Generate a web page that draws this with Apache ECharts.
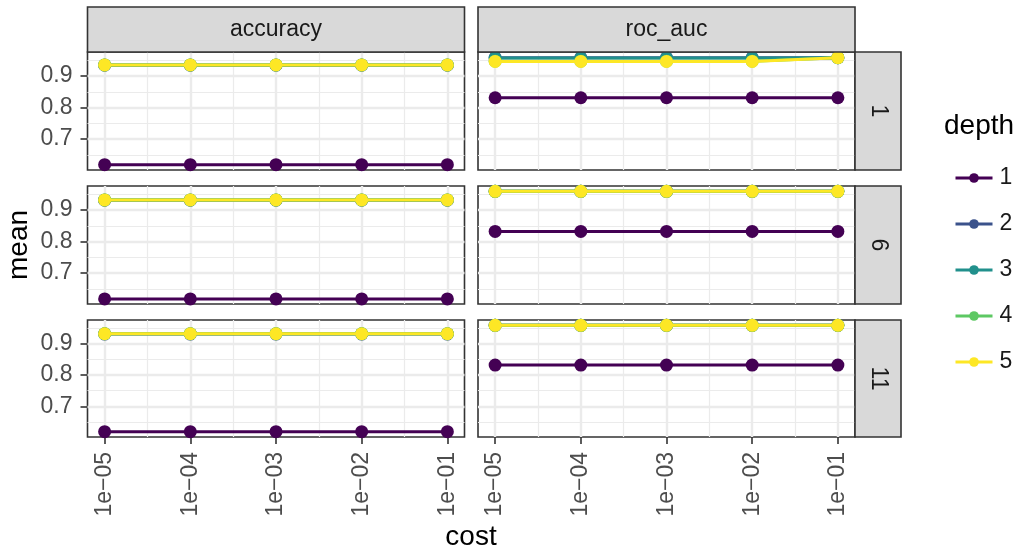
<!DOCTYPE html>
<html>
<head>
<meta charset="utf-8">
<script src="https://cdn.jsdelivr.net/npm/echarts@6/dist/echarts.min.js"></script>
<style>
  html, body { margin: 0; padding: 0; background: #ffffff; }
  #chart { width: 1022px; height: 549px; }
</style>
</head>
<body>
<div id="chart"></div>
<script>
// ---- data -------------------------------------------------------------
const costs = [1e-5, 1e-4, 1e-3, 1e-2, 1e-1];
const costLabels = ['1e\u221205', '1e\u221204', '1e\u221203', '1e\u221202', '1e\u221201'];
const costMinor = [Math.pow(10, -4.5), Math.pow(10, -3.5), Math.pow(10, -2.5), Math.pow(10, -1.5)];
const meanTicks = [0.7, 0.8, 0.9];
const meanLabels = ['0.7', '0.8', '0.9'];
const meanMinor = [0.65, 0.75, 0.85, 0.95];

const metrics = ['accuracy', 'roc_auc'];
const rowLevels = ['1', '6', '11'];
const depths = ['1', '2', '3', '4', '5'];
const depthColors = ['#440154', '#3B528B', '#21908C', '#5DC863', '#FDE725'];

// mean metric per depth (rows) across the five cost values (columns)
const accuracyRow1 = [
  [0.619, 0.619, 0.619, 0.619, 0.619],
  [0.934, 0.934, 0.934, 0.934, 0.934],
  [0.935, 0.935, 0.935, 0.935, 0.935],
  [0.935, 0.935, 0.935, 0.935, 0.935],
  [0.935, 0.935, 0.935, 0.935, 0.935]
];
const rocAucRow1 = [
  [0.831, 0.831, 0.831, 0.831, 0.831],
  [0.958, 0.958, 0.958, 0.958, 0.958],
  [0.957, 0.957, 0.957, 0.957, 0.958],
  [0.947, 0.947, 0.947, 0.947, 0.958],
  [0.946, 0.946, 0.946, 0.946, 0.958]
];
const accuracyRow6 = [
  [0.618, 0.618, 0.618, 0.618, 0.618],
  [0.931, 0.931, 0.931, 0.931, 0.931],
  [0.932, 0.932, 0.932, 0.932, 0.932],
  [0.932, 0.932, 0.932, 0.932, 0.932],
  [0.932, 0.932, 0.932, 0.932, 0.932]
];
const rocAucRow6 = [
  [0.832, 0.832, 0.832, 0.832, 0.832],
  [0.959, 0.959, 0.959, 0.959, 0.959],
  [0.959, 0.959, 0.959, 0.959, 0.959],
  [0.959, 0.959, 0.959, 0.959, 0.959],
  [0.959, 0.959, 0.959, 0.959, 0.959]
];
const accuracyRow11 = [
  [0.619, 0.619, 0.619, 0.619, 0.619],
  [0.931, 0.931, 0.931, 0.931, 0.931],
  [0.932, 0.932, 0.932, 0.932, 0.932],
  [0.932, 0.932, 0.932, 0.932, 0.932],
  [0.932, 0.932, 0.932, 0.932, 0.932]
];
const rocAucRow11 = [
  [0.832, 0.832, 0.832, 0.832, 0.832],
  [0.959, 0.959, 0.959, 0.959, 0.959],
  [0.959, 0.959, 0.959, 0.959, 0.959],
  [0.959, 0.959, 0.959, 0.959, 0.959],
  [0.959, 0.959, 0.959, 0.959, 0.959]
];
const panelValues = [
  [accuracyRow1, rocAucRow1],
  [accuracyRow6, rocAucRow6],
  [accuracyRow11, rocAucRow11]
];

// ---- layout -------------------------------------------------------------
const FONT = '"Liberation Sans", Arial, Helvetica, sans-serif';
const colLeft = [87.5, 478];
const colWidth = 377;
const rowTop = [52, 186, 320];
const rowHeight = [118, 118, 117];
const stripTop = 7;
const stripH = 45;
const stripRightX = 855;
const stripRightW = 46;
const yMin = 0.602, yMax = 0.976;
const xMin = Math.pow(10, -5.2), xMax = Math.pow(10, -0.8);

const grids = [], xAxes = [], yAxes = [], series = [], graphics = [];

function costLabel(v) {
  const e = v > 0 ? Math.round(Math.log10(v)) : Math.round(v);
  const i = costs.findIndex(c => Math.round(Math.log10(c)) === e);
  return i >= 0 ? costLabels[i] : '';
}

let p = 0;
for (let r = 0; r < rowLevels.length; r++) {
  for (let c = 0; c < metrics.length; c++) {
    const isBottom = r === rowLevels.length - 1;
    const isLeft = c === 0;
    grids.push({
      left: colLeft[c], top: rowTop[r], width: colWidth, height: rowHeight[r],
      show: true, borderColor: '#333333', borderWidth: 1.6, backgroundColor: 'transparent',
      containLabel: false
    });
    xAxes.push({
      type: 'log', logBase: 10, gridIndex: p, min: xMin, max: xMax,
      axisLine: { show: false },
      splitLine: { show: false }, minorSplitLine: { show: false },
      axisTick: { show: isBottom, customValues: costs, length: 7, inside: false,
                  lineStyle: { color: '#333333', width: 1.6 } },
      axisLabel: { show: isBottom, customValues: costs, rotate: 90, margin: 15,
                   fontFamily: FONT, fontSize: 23, color: '#4D4D4D', formatter: costLabel }
    });
    yAxes.push({
      type: 'value', gridIndex: p, min: yMin, max: yMax,
      axisLine: { show: false },
      splitLine: { show: false }, minorSplitLine: { show: false },
      axisTick: { show: isLeft, customValues: meanTicks, length: 7,
                  lineStyle: { color: '#333333', width: 1.6 } },
      axisLabel: { show: isLeft, customValues: meanTicks, margin: 15,
                   fontFamily: FONT, fontSize: 23, color: '#4D4D4D',
                   formatter: v => {
                     const i = meanTicks.findIndex(t => Math.abs(t - v) < 1e-6);
                     return i >= 0 ? meanLabels[i] : '';
                   } }
    });

    // panel grid lines (major and minor breaks)
    const gridLineData = [];
    costMinor.forEach(v => gridLineData.push({ xAxis: v, lineStyle: { color: '#EBEBEB', width: 1.2, type: 'solid' } }));
    meanMinor.forEach(v => gridLineData.push({ yAxis: v, lineStyle: { color: '#EBEBEB', width: 1.2, type: 'solid' } }));
    costs.forEach(v => gridLineData.push({ xAxis: v, lineStyle: { color: '#EBEBEB', width: 2.4, type: 'solid' } }));
    meanTicks.forEach(v => gridLineData.push({ yAxis: v, lineStyle: { color: '#EBEBEB', width: 2.4, type: 'solid' } }));
    series.push({
      type: 'line', name: 'panel-grid', xAxisIndex: p, yAxisIndex: p, data: [],
      silent: true, z: 1,
      markLine: { silent: true, z: 1, precision: 12, symbol: ['none', 'none'], label: { show: false },
                  animation: false, emphasis: { disabled: true }, data: gridLineData }
    });

    const vals = panelValues[r][c];
    depths.forEach((d, k) => {
      series.push({
        type: 'line', name: d, xAxisIndex: p, yAxisIndex: p,
        data: costs.map((x, i) => [x, vals[k][i]]),
        symbol: 'circle', symbolSize: 13, showSymbol: true,
        color: depthColors[k],
        lineStyle: { color: depthColors[k], width: 3 },
        itemStyle: { color: depthColors[k] },
        emphasis: { disabled: true }, silent: true, clip: true,
        z: 2 + k
      });
    });
    p++;
  }
}

// facet strips: metric names on top, row levels on the right
metrics.forEach((m, c) => {
  graphics.push({
    type: 'rect', z: 100, silent: true,
    shape: { x: colLeft[c], y: stripTop, width: colWidth, height: stripH },
    style: { fill: '#D9D9D9', stroke: '#333333', lineWidth: 1.6 }
  });
  graphics.push({
    type: 'text', z: 101, silent: true,
    x: colLeft[c] + colWidth / 2, y: stripTop + stripH / 2,
    style: { text: m, font: '23px ' + FONT, fill: '#1A1A1A', align: 'center', verticalAlign: 'middle' }
  });
});
rowLevels.forEach((lv, r) => {
  graphics.push({
    type: 'rect', z: 100, silent: true,
    shape: { x: stripRightX, y: rowTop[r], width: stripRightW, height: rowHeight[r] },
    style: { fill: '#D9D9D9', stroke: '#333333', lineWidth: 1.6 }
  });
  graphics.push({
    type: 'text', z: 101, silent: true,
    x: stripRightX + stripRightW / 2, y: rowTop[r] + rowHeight[r] / 2,
    rotation: -Math.PI / 2,
    style: { text: lv, font: '23px ' + FONT, fill: '#1A1A1A', align: 'center', verticalAlign: 'middle' }
  });
});

// axis titles and legend title
graphics.push({
  type: 'text', silent: true, x: 471, y: 537,
  style: { text: 'cost', font: '28px ' + FONT, fill: '#000000', align: 'center', verticalAlign: 'middle' }
});
graphics.push({
  type: 'text', silent: true, x: 19, y: 245, rotation: Math.PI / 2,
  style: { text: 'mean', font: '28px ' + FONT, fill: '#000000', align: 'center', verticalAlign: 'middle' }
});
graphics.push({
  type: 'text', silent: true, x: 944, y: 126,
  style: { text: 'depth', font: '28px ' + FONT, fill: '#000000', align: 'left', verticalAlign: 'middle' }
});

const chart = echarts.init(document.getElementById('chart'), null, { renderer: 'canvas' });
chart.setOption({
  animation: false,
  backgroundColor: '#ffffff',
  textStyle: { fontFamily: FONT },
  grid: grids,
  xAxis: xAxes,
  yAxis: yAxes,
  legend: {
    data: depths, orient: 'vertical', left: 949, top: 161,
    itemWidth: 37, itemHeight: 12, itemGap: 22, selectedMode: false,
    lineStyle: { width: 3 },
    textStyle: { fontFamily: FONT, fontSize: 23, color: '#1A1A1A', lineHeight: 24, padding: [0, 0, 0, 2] }
  },
  graphic: graphics,
  series: series
});
</script>
</body>
</html>
